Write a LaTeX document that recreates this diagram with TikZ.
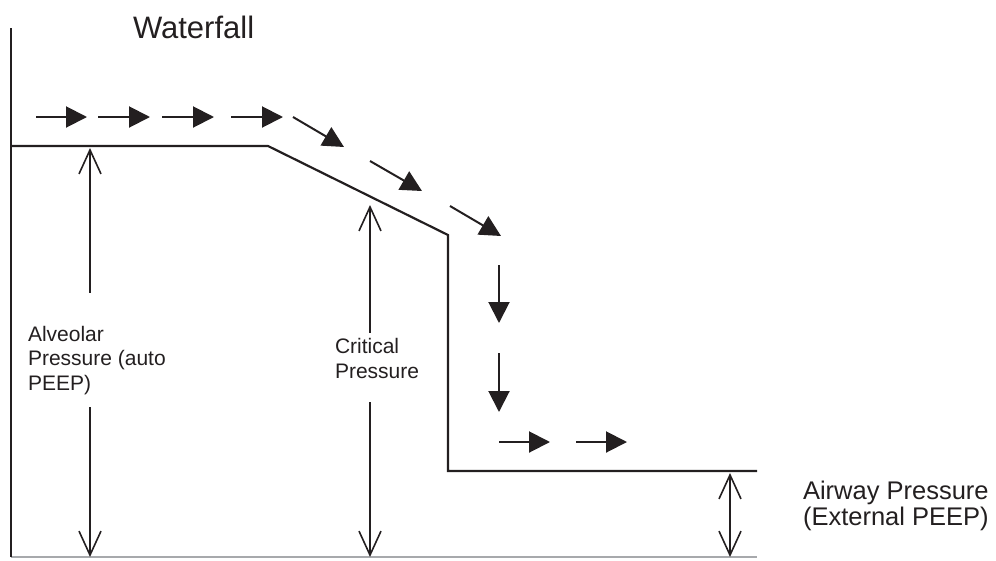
\documentclass[tikz,border=0pt]{standalone}
\usepackage{fontspec}
\setmainfont{Liberation Sans}
\usetikzlibrary{arrows.meta}
\definecolor{ink}{HTML}{231F20}
\definecolor{baseline}{HTML}{A7A9AC}
\begin{document}
\begin{tikzpicture}[x=1pt,y=-1pt,
  every node/.style={inner sep=0pt, outer sep=0pt, text=ink},
  wall/.style={draw=ink, line width=2.2pt, line join=miter},
  flow/.style={draw=ink, line width=2pt, -{Triangle[length=21pt,width=21pt]}},
  dimup/.style={draw=ink, line width=1.6pt, {Straight Barb[length=24pt,width=22pt,line width=1.6pt]}-},
  dimdown/.style={draw=ink, line width=1.6pt, -{Straight Barb[length=24pt,width=22pt,line width=1.6pt]}},
  dimboth/.style={draw=ink, line width=1.6pt, {Straight Barb[length=24pt,width=22pt,line width=1.6pt]}-{Straight Barb[length=24pt,width=22pt,line width=1.6pt]}},
  lbl/.style={align=left, anchor=base west, font=\fontsize{21}{24.5}\selectfont},
]
\useasboundingbox (0,0) rectangle (996,560);

% title
\node[anchor=base west, font=\fontsize{31}{36}\selectfont] (title) at (133,38) {Waterfall};

% axes
\coordinate (ax0) at (11,28);
\coordinate (ax1) at (11,557);
\coordinate (bx1) at (757,557);
\draw[draw=baseline, line width=1.5pt] (ax1) -- (bx1);
\draw[draw=ink, line width=2pt] (ax0) -- (ax1);

% pressure profile
\coordinate (p0) at (11,146);
\coordinate (p1) at (268,146);
\coordinate (p2) at (448,235);
\coordinate (p3) at (448,471);
\coordinate (p4) at (757,471);
\draw[wall] (p0) -- (p1) -- (p2) -- (p3) -- (p4);

% flow arrows
\coordinate (f1a) at (36,117);  \coordinate (f1b) at (87,117);
\coordinate (f2a) at (98,117);  \coordinate (f2b) at (150,117);
\coordinate (f3a) at (162,117); \coordinate (f3b) at (214,117);
\coordinate (f4a) at (231,117); \coordinate (f4b) at (283,117);
\coordinate (f5a) at (293,117); \coordinate (f5b) at (344,147);
\coordinate (f6a) at (370,161); \coordinate (f6b) at (422,191);
\coordinate (f7a) at (450,206); \coordinate (f7b) at (501,236);
\coordinate (f8a) at (499,265); \coordinate (f8b) at (499,323);
\coordinate (f9a) at (499,353); \coordinate (f9b) at (499,412);
\coordinate (f10a) at (499,442); \coordinate (f10b) at (550,442);
\coordinate (f11a) at (576,442); \coordinate (f11b) at (627,442);
\foreach \i in {1,...,11} {\draw[flow] (f\i a) -- (f\i b);}

% alveolar pressure
\node[lbl] (alv) at (28,390) {Alveolar\\Pressure (auto\\PEEP)};
\coordinate (alvtip) at (90,148);
\coordinate (alvtop) at (90,293);
\coordinate (alvbot) at (90,407);
\coordinate (alvend) at (90,557);
\draw[dimup] (alvtip) -- (alvtop);
\draw[dimdown] (alvbot) -- (alvend);

% critical pressure
\node[lbl] (crit) at (335,378) {Critical\\Pressure};
\coordinate (crtip) at (370,205);
\coordinate (crtop) at (370,333);
\coordinate (crbot) at (370,402);
\coordinate (crend) at (370,557);
\draw[dimup] (crtip) -- (crtop);
\draw[dimdown] (crbot) -- (crend);

% airway pressure
\coordinate (awtip) at (730,473);
\coordinate (awend) at (730,557);
\draw[dimboth] (awtip) -- (awend);
\node[lbl, font=\fontsize{25.5}{26}\selectfont] (air) at (803,525) {Airway Pressure\\(External PEEP)};
\end{tikzpicture}
\end{document}
